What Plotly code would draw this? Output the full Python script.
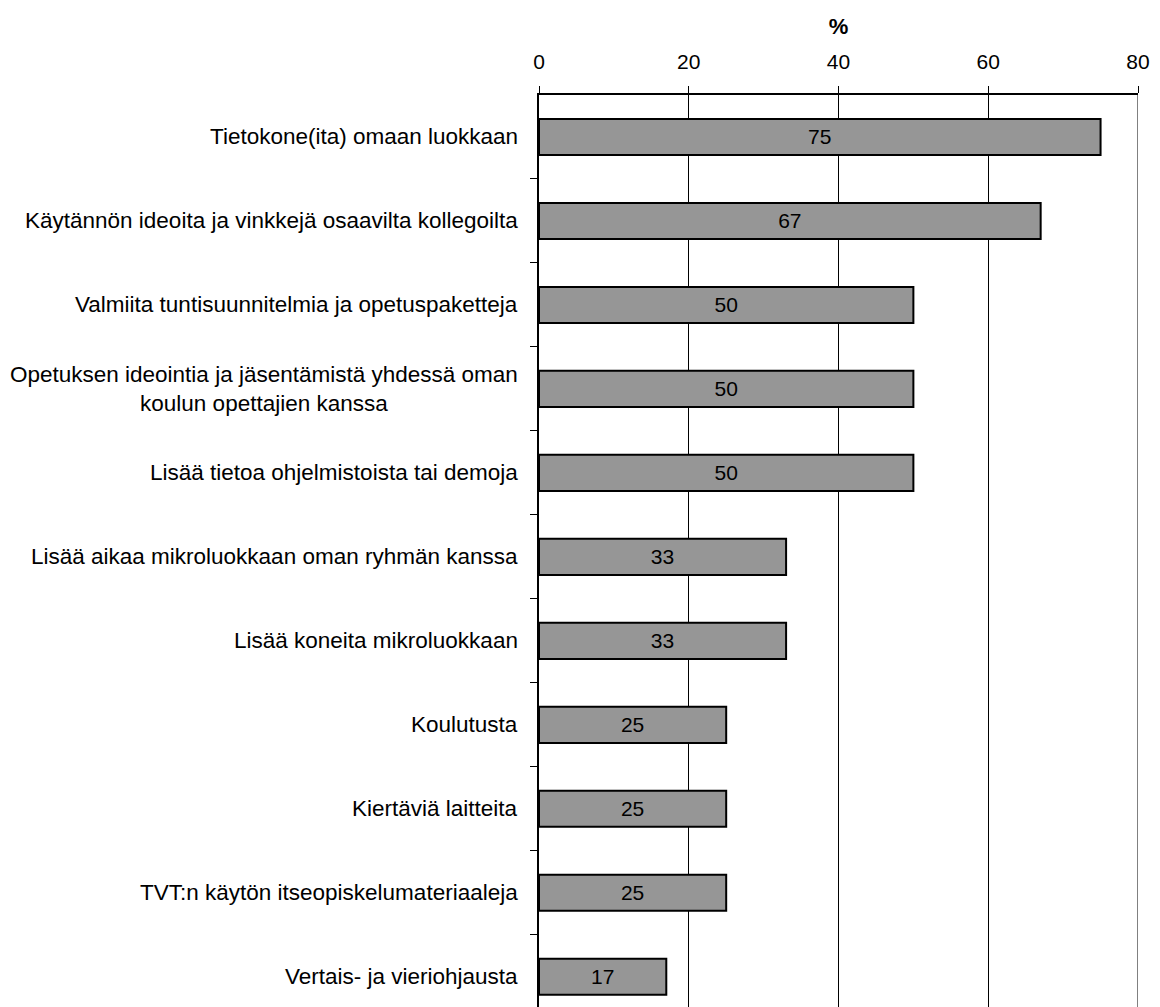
import plotly.graph_objects as go

categories = [
    "Tietokone(ita) omaan luokkaan",
    "Käytännön ideoita ja vinkkejä osaavilta kollegoilta",
    "Valmiita tuntisuunnitelmia ja opetuspaketteja",
    "Opetuksen ideointia ja jäsentämistä yhdessä oman<br>koulun opettajien kanssa",
    "Lisää tietoa ohjelmistoista tai demoja",
    "Lisää aikaa mikroluokkaan oman ryhmän kanssa",
    "Lisää koneita mikroluokkaan",
    "Koulutusta",
    "Kiertäviä laitteita",
    "TVT:n käytön itseopiskelumateriaaleja",
    "Vertais- ja vieriohjausta",
]
values = [75, 67, 50, 50, 50, 33, 33, 25, 25, 25, 17]
x_ticks = [0, 20, 40, 60, 80]

FONT = "Arial, Liberation Sans, sans-serif"

fig = go.Figure()
fig.add_trace(go.Bar(
    y=list(range(len(categories))), x=values, orientation="h",
    width=0.43,
    marker=dict(color="#969696", line=dict(color="black", width=2)),
    text=[str(v) for v in values], textposition="inside",
    insidetextanchor="middle", textangle=0, constraintext="none",
    textfont=dict(family=FONT, size=21, color="black"),
    showlegend=False, hoverinfo="skip",
))

# category labels, centred on multi-line text like the original
for i, lab in enumerate(categories):
    fig.add_annotation(x=0, y=i, xref="paper", yref="y", text=lab,
                       showarrow=False, xanchor="right", yanchor="middle",
                       align="center", xshift=-19,
                       font=dict(family=FONT, size=22.5, color="black"))

# the page body adds an 8px margin, so the figure is 8px smaller
fig.update_layout(
    width=1152, height=999,
    margin=dict(l=531, r=22, t=87, b=0),
    plot_bgcolor="white", paper_bgcolor="white",
    font=dict(family=FONT, size=20, color="black"),
)
fig.update_xaxes(
    side="top", range=[0, 80], tickvals=x_ticks,
    ticks="outside", ticklen=7, tickcolor="black", tickwidth=1,
    ticklabelstandoff=9,
    showgrid=True, gridcolor="black", gridwidth=1,
    showline=True, linecolor="black", linewidth=2, mirror=False,
    zeroline=False,
    tickfont=dict(family=FONT, size=21),
    title=dict(text="<b>%</b>", font=dict(family=FONT, size=22), standoff=9),
)
fig.update_yaxes(
    range=[len(categories) - 0.64, -0.5],
    tickvals=[i + 0.5 for i in range(len(categories) - 1)],
    showticklabels=False, ticks="outside", ticklen=7, tickcolor="black",
    showgrid=False, zeroline=False,
    showline=True, linecolor="black", linewidth=2,
)
# right-hand plot border (grey) at 80
fig.add_shape(type="line", xref="x", yref="paper", x0=80, x1=80, y0=0, y1=1,
              line=dict(color="#808080", width=2))

fig.write_html("out.html")
